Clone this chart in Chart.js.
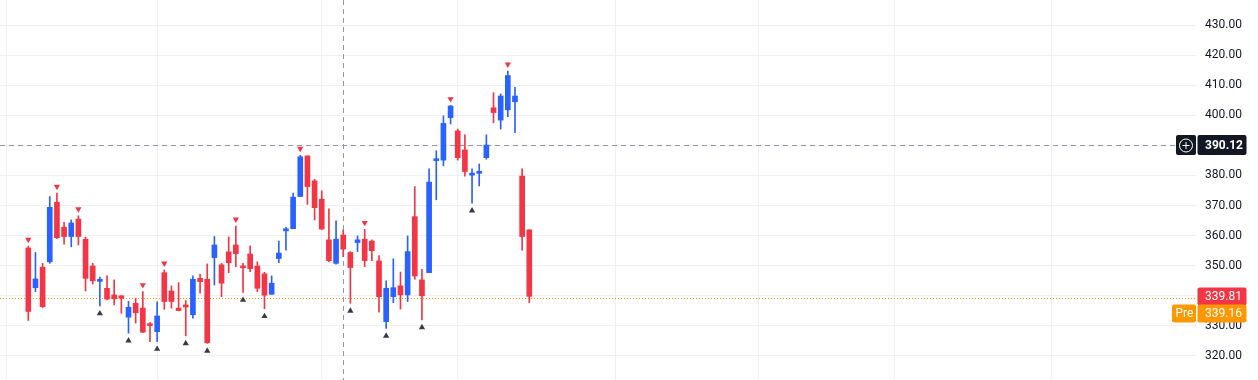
<!DOCTYPE html>
<html><head><meta charset="utf-8">
<script src="https://cdn.jsdelivr.net/npm/chart.js@4"></script>
<style>html,body{margin:0;padding:0;background:#fff;overflow:hidden}</style>
</head><body>
<canvas id="c" width="1258" height="380" style="display:block"></canvas>
<script>
// ---- data ----
const opens  = [355.9,342.7,349.5,351.3,371.1,362.8,359.7,365.5,358.8,349.9,344.8,342.5,340.3,340.0,332.9,337.5,335.9,330.5,328.1,347.7,341.6,335.9,336.8,333.7,345.8,345.5,352.7,350.3,354.6,356.9,349.7,353.9,349.9,347.3,340.5,352.4,361.6,362.3,373.0,386.5,378.2,372.1,358.6,350.8,360.2,354.4,357.7,358.8,358.2,351.6,331.4,339.7,343.3,340.3,366.3,345.3,347.7,384.9,385.1,399.2,394.8,388.5,380.1,380.7,385.9,402.5,398.4,401.8,404.5,379.8,361.9];
const highs  = [356.5,354.4,350.8,373.0,374.1,364.4,365.2,366.6,359.5,350.8,346.2,346.6,345.3,340.1,338.2,339.2,341.4,331.1,338.0,348.6,343.3,344.4,338.4,346.6,347.2,350.6,359.7,350.8,359.6,363.2,350.8,356.6,351.3,347.8,346.6,358.2,362.8,374.1,386.7,386.5,378.7,374.9,368.9,364.9,361.9,354.7,359.9,362.1,358.6,353.4,345.0,352.3,347.9,359.9,376.3,348.8,382.2,388.2,399.8,403.2,395.4,393.5,382.2,383.8,393.5,407.5,407.1,414.7,409.3,382.2,362.0];
const lows   = [331.8,341.4,336.1,350.8,359.0,357.2,356.3,356.9,341.6,343.9,336.6,338.6,337.0,334.2,327.6,330.9,327.8,324.8,324.8,335.5,335.9,335.0,326.7,332.6,340.9,324.2,343.6,339.7,347.7,349.7,341.1,348.0,341.4,335.7,340.5,351.0,355.2,362.3,373.0,370.4,365.2,362.0,351.3,350.5,353.0,337.5,354.7,349.7,351.7,334.6,329.2,337.7,335.6,338.1,345.5,332.0,347.7,371.9,383.2,397.1,385.1,379.8,370.8,376.5,385.4,397.5,395.4,399.5,394.2,355.2,337.7];
const closes = [334.8,345.6,336.4,369.4,359.3,359.7,364.2,359.7,345.8,345.0,345.2,338.9,339.0,339.2,336.2,334.4,327.9,330.1,333.3,338.1,338.1,335.1,336.3,345.5,344.7,324.4,356.9,344.2,351.0,354.0,349.3,349.0,342.5,340.2,344.2,354.2,362.2,372.8,386.2,376.3,369.3,362.2,351.7,358.8,355.5,349.4,358.6,351.7,355.0,339.7,342.5,342.7,340.3,354.7,346.6,340.0,377.8,385.4,397.3,403.1,385.9,381.3,380.5,381.1,390.1,400.9,406.4,413.2,406.4,359.7,339.81];
const pivotHighIdx = [0,4,7,16,19,29,38,47,59,67];
const pivotLowIdx  = [10,14,18,22,25,30,33,45,50,55,62];
const monthStartIdx = [-3,18,41,60,82,102,121,143];
const priceTicks = [320,330,340,350,360,370,380,390,400,410,420,430];
const lastPrice = 339.81;
const prePrice = 339.16;
const crossPrice = 390.12;
const crossIdx = 44;

const UP = '#2962ff', DOWN = '#f23645';
const idx = opens.map((_, i) => i);
const colors = idx.map(i => closes[i] >= opens[i] ? UP : DOWN);

Chart.defaults.font.family = 'Roboto, "Noto Sans", sans-serif';

const overlay = {
  id: 'overlay',
  beforeDatasetsDraw(chart) {
    const {ctx, chartArea: a, scales: {x, y}} = chart;
    ctx.save();
    ctx.strokeStyle = '#ff9800'; ctx.lineWidth = 1; ctx.setLineDash([1, 2]);
    const yp = Math.round(y.getPixelForValue(prePrice)) + 0.5;
    ctx.beginPath(); ctx.moveTo(a.left, yp); ctx.lineTo(a.right, yp); ctx.stroke();
    ctx.strokeStyle = '#9598a1'; ctx.setLineDash([5, 4]);
    const xc = Math.round(x.getPixelForValue(crossIdx)) + 0.5;
    ctx.beginPath(); ctx.moveTo(xc, a.top); ctx.lineTo(xc, a.bottom); ctx.stroke();
    const yc = Math.round(y.getPixelForValue(crossPrice)) + 0.5;
    ctx.beginPath(); ctx.moveTo(a.left, yc); ctx.lineTo(a.right - 20, yc); ctx.stroke();
    ctx.restore();
  },
  afterDraw(chart) {
    const {ctx, chartArea: a, scales: {y}} = chart;
    const bx = a.right + 1.5, bw = 49;
    ctx.save();
    ctx.textBaseline = 'middle';
    function box(x0, y0, w, h, fill) {
      ctx.fillStyle = fill; ctx.beginPath();
      ctx.roundRect(x0, y0, w, h, 2); ctx.fill();
    }
    const yc = y.getPixelForValue(crossPrice);
    box(bx, yc - 10, bw, 20, '#131722');
    box(a.right - 20, yc - 10, 20, 20, '#131722');
    ctx.strokeStyle = '#fff'; ctx.lineWidth = 1;
    const cx = a.right - 10, cy = Math.round(yc) + 0.5;
    ctx.beginPath(); ctx.arc(cx, cy, 6.5, 0, Math.PI * 2); ctx.stroke();
    ctx.beginPath(); ctx.moveTo(cx - 3.5, cy); ctx.lineTo(cx + 3.5, cy);
    ctx.moveTo(cx, cy - 3.5); ctx.lineTo(cx, cy + 3.5); ctx.stroke();
    ctx.fillStyle = '#fff'; ctx.font = 'bold 12px Roboto';
    ctx.textAlign = 'left';
    ctx.fillText(crossPrice.toFixed(2), bx + 7.5, yc + 0.5);
    const yl = y.getPixelForValue(lastPrice);
    box(bx, yl - 9, bw, 18, DOWN);
    ctx.fillStyle = '#fff'; ctx.font = '12px Roboto';
    ctx.fillText(lastPrice.toFixed(2), bx + 7.5, yl + 0.5);
    const yo = yl + 8;
    box(bx, yo, bw, 18, '#ff9800');
    box(a.right - 24, yo, 24, 18, '#ff9800');
    ctx.fillStyle = '#fff';
    ctx.fillText(prePrice.toFixed(2), bx + 7.5, yo + 9.5);
    ctx.fillText('Pre', a.right - 20.5, yo + 9.5);
    ctx.restore();
  }
};

new Chart(document.getElementById('c'), {
  type: 'bar',
  data: {
    datasets: [
      {
        label: 'body', order: 1, grouped: false,
        data: idx.map(i => ({x: i, y: [opens[i], closes[i]]})),
        backgroundColor: colors, barThickness: 5, minBarLength: 2, borderWidth: 0
      },
      {
        label: 'wick', order: 2, grouped: false,
        data: idx.map(i => ({x: i, y: [lows[i], highs[i]]})),
        backgroundColor: colors, barThickness: 1, borderWidth: 0
      },
      {
        type: 'scatter', label: 'pivotHigh', order: 0,
        data: pivotHighIdx.map(i => ({x: i, y: highs[i] + 2.2})),
        pointStyle: 'triangle', rotation: 180, pointRadius: 3.6,
        backgroundColor: DOWN, borderWidth: 0
      },
      {
        type: 'scatter', label: 'pivotLow', order: 0,
        data: pivotLowIdx.map(i => ({x: i, y: lows[i] - 2.5})),
        pointStyle: 'triangle', rotation: 0, pointRadius: 3.6,
        backgroundColor: '#363a45', borderWidth: 0
      }
    ]
  },
  options: {
    responsive: false, animation: false, devicePixelRatio: 1,
    layout: {padding: 0, autoPadding: false},
    plugins: {legend: {display: false}, tooltip: {enabled: false}},
    events: [],
    scales: {
      x: {
        type: 'linear', min: -3.954, max: 163.15, offset: false,
        grid: {color: '#eef0f3', drawTicks: false, offset: false},
        border: {display: false},
        ticks: {display: false},
        afterBuildTicks: s => { s.ticks = monthStartIdx.map(v => ({value: v})); },
        afterFit: s => { s.height = 0; s.paddingLeft = 0; s.paddingRight = 0; }
      },
      y: {
        type: 'linear', position: 'right', min: 312.02, max: 438.31,
        grid: {color: '#eef0f3', drawTicks: false},
        border: {display: false},
        ticks: {
          color: '#131722', font: {size: 12}, padding: 9, autoSkip: false,
          callback: v => Number(v).toFixed(2)
        },
        afterBuildTicks: s => { s.ticks = priceTicks.map(v => ({value: v})); },
        afterFit: s => { s.width = 62; s.paddingTop = 0; s.paddingBottom = 0; }
      }
    }
  },
  plugins: [overlay]
});
</script>
</body></html>
